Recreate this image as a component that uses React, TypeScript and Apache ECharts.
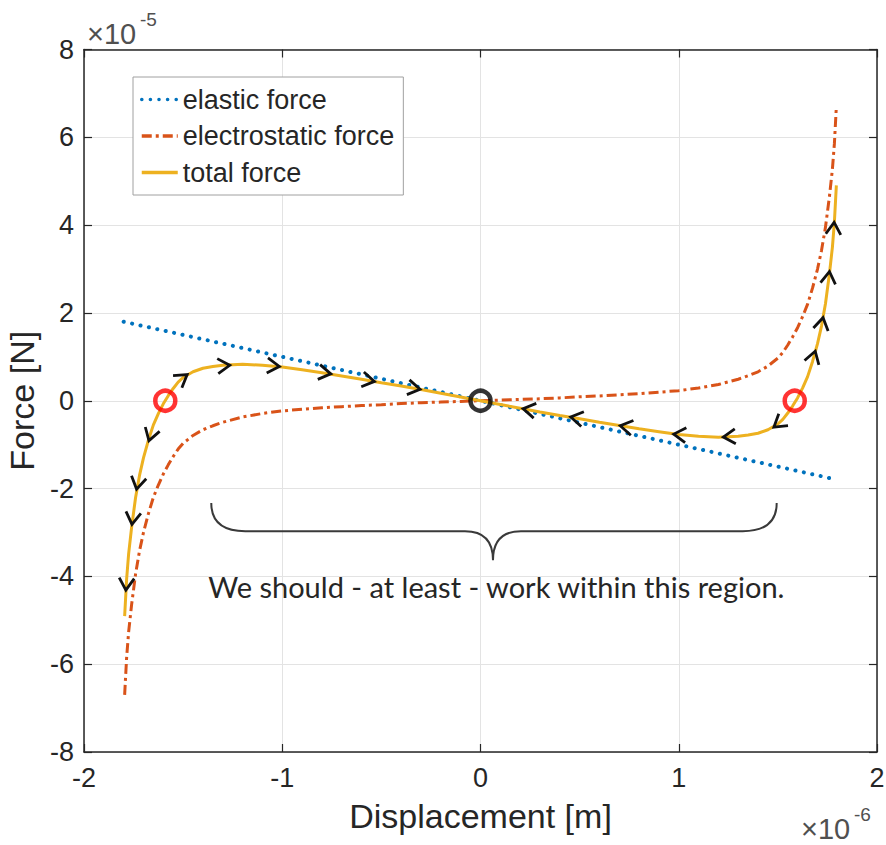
import React, { useEffect, useRef } from 'react';
import * as echarts from 'echarts';

// Displacement (x 1e-6 m) sample points for the curved forces (positive half; mirrored below)
const halfX = [0, 0.1, 0.2, 0.3, 0.4, 0.5, 0.6, 0.7, 0.8, 0.9, 1.0, 1.1, 1.2, 1.3, 1.35, 1.4, 1.45, 1.5,
  1.525, 1.55, 1.575, 1.6, 1.625, 1.65, 1.675, 1.7, 1.72, 1.74, 1.76, 1.775, 1.785, 1.795];
// Electrostatic force (x 1e-5 N), positive half
const halfElectro = [0, 0.015, 0.03, 0.045, 0.065, 0.09, 0.11, 0.135, 0.16, 0.195, 0.23, 0.29, 0.37, 0.49, 0.57, 0.66, 0.79, 0.97,
  1.1, 1.27, 1.46, 1.67, 1.92, 2.2, 2.57, 3.0, 3.42, 3.95, 4.65, 5.27, 5.85, 6.7];
// Total force (x 1e-5 N), positive half
const halfTotal = [0, -0.085, -0.17, -0.255, -0.335, -0.41, -0.49, -0.565, -0.64, -0.705, -0.77, -0.81, -0.83, -0.81, -0.78, -0.74, -0.66, -0.53,
  -0.425, -0.28, -0.115, 0.07, 0.295, 0.55, 0.895, 1.3, 1.7, 2.21, 2.89, 3.495, 4.065, 4.905];
// Elastic force (straight line)
const elasticX = [-1.8, 1.8];
const elasticF = [1.8, -1.8];

// Direction chevrons along the total force curve (angle: screen degrees, counter-clockwise)
const arrowX = [-1.665, -1.73, -1.755, -1.787, -1.5, -1.29, -1.04, -0.78, -0.56, -0.33,
  0.24, 0.48, 0.73, 1.0, 1.25, 1.5, 1.681, 1.723, 1.757, 1.782];
const arrowY = [-0.8, -1.9, -2.7, -4.2, 0.53, 0.8, 0.79, 0.63, 0.46, 0.28,
  -0.2, -0.39, -0.59, -0.77, -0.82, -0.53, 1.02, 1.78, 2.83, 3.95];
const arrowAngle = [253, 259, 263, 266, 36, 4, -5, -9, -10, -10,
  170, 170, 170, 175, 184, 218, 73, 79, 83, 86];

// Equilibrium points
const eqX = [-1.59, 0, 1.585];
const eqY = [0, 0, 0];
const eqColor = ['#FF0000', '#000000', '#FF0000'];

// Brace annotation (data units)
const braceX = [-1.358, 0.063, 1.494];
const braceY = [-2.33, -2.97, -3.63];
const noteText = 'We should - at least - work within this region.';
const notePos = [0.08, -4.22];

const FONT = 'Liberation Sans, Arial, sans-serif';

const dispX = [...halfX.slice(1).reverse().map((v) => -v), ...halfX];
const electroF = [...halfElectro.slice(1).reverse().map((v) => -v), ...halfElectro];
const totalF = [...halfTotal.slice(1).reverse().map((v) => -v), ...halfTotal];

export default function App() {
  const ref = useRef<HTMLDivElement>(null);
  useEffect(() => {
    if (!ref.current) return;
    const chart = echarts.init(ref.current, undefined, { renderer: 'svg' });
    const axisLine = { show: true, onZero: false, lineStyle: { color: '#262626', width: 1.5 } };
    const axisTick = { show: true, inside: true, length: 8, lineStyle: { color: '#262626', width: 1.2 } };
    const split = { show: true, lineStyle: { color: '#e3e3e3', width: 1 } };
    const option: any = {
      animation: false,
      backgroundColor: '#ffffff',
      grid: { left: 84, right: 9, top: 49.5, bottom: 93, containLabel: false, outerBoundsMode: 'none' },
      legend: {
        show: true,
        data: ['elastic force', 'electrostatic force', 'total force'],
        orient: 'vertical',
        left: 133,
        top: 77,
        padding: [9, 9, 9, 7],
        itemGap: 9.5,
        itemWidth: 36,
        itemHeight: 14,
        backgroundColor: '#ffffff',
        borderColor: '#a0a0a0',
        borderWidth: 1,
        itemStyle: { color: 'rgba(0,0,0,0)', borderColor: 'rgba(0,0,0,0)', borderWidth: 0 },
        lineStyle: { width: 3.5 },
        textStyle: { fontSize: 27, color: '#262626', fontFamily: FONT, lineHeight: 26 },
      },
      xAxis: [
        {
          type: 'value', min: -2, max: 2, interval: 1, position: 'bottom',
          axisLine, axisTick, splitLine: split,
          axisLabel: { fontSize: 27, color: '#262626', margin: 12, fontFamily: FONT },
          name: 'Displacement [m]', nameLocation: 'middle', nameGap: 47,
          nameTextStyle: { fontSize: 34, color: '#262626', fontFamily: FONT },
        },
        {
          type: 'value', min: -2, max: 2, interval: 1, position: 'top',
          axisLine, axisTick, splitLine: { show: false }, axisLabel: { show: false },
        },
      ],
      yAxis: [
        {
          type: 'value', min: -8, max: 8, interval: 2, position: 'left',
          axisLine, axisTick, splitLine: split,
          axisLabel: { fontSize: 27, color: '#262626', margin: 10, fontFamily: FONT },
          name: 'Force [N]', nameLocation: 'middle', nameGap: 36,
          nameTextStyle: { fontSize: 34, color: '#262626', fontFamily: FONT },
        },
        {
          type: 'value', min: -8, max: 8, interval: 2, position: 'right',
          axisLine, axisTick, splitLine: { show: false }, axisLabel: { show: false },
        },
      ],
      graphic: [
        { type: 'text', left: 87, top: 19, style: { text: '×10', fontSize: 29, fill: '#505050', fontFamily: FONT } },
        { type: 'text', left: 140, top: 10, style: { text: '-5', fontSize: 19, fill: '#505050', fontFamily: FONT } },
        { type: 'text', left: 801, top: 814, style: { text: '×10', fontSize: 29, fill: '#505050', fontFamily: FONT } },
        { type: 'text', left: 854, top: 805, style: { text: '-6', fontSize: 19, fill: '#505050', fontFamily: FONT } },
      ],
      series: [
        {
          name: 'elastic force', type: 'line', xAxisIndex: 0, yAxisIndex: 0,
          data: elasticX.map((x, i) => [x, elasticF[i]]),
          symbol: 'none', color: '#0072BD',
          lineStyle: { color: '#0072BD', width: 4, type: [0.1, 8.5], cap: 'round' },
          z: 2,
        },
        {
          name: 'electrostatic force', type: 'line', xAxisIndex: 0, yAxisIndex: 0,
          data: dispX.map((x, i) => [x, electroF[i]]),
          symbol: 'none', color: '#D95319', smooth: false,
          lineStyle: { color: '#D95319', width: 3, type: [10, 4, 3, 4] },
          z: 3,
        },
        {
          name: 'total force', type: 'line', xAxisIndex: 0, yAxisIndex: 0,
          data: dispX.map((x, i) => [x, totalF[i]]),
          symbol: 'none', color: '#EDB120', smooth: false,
          lineStyle: { color: '#EDB120', width: 3 },
          z: 4,
        },
        {
          name: 'arrows', type: 'custom', xAxisIndex: 0, yAxisIndex: 0, z: 5,
          data: arrowX.map((x, i) => [x, arrowY[i], arrowAngle[i]]),
          renderItem: (params: any, api: any) => {
            const p = api.coord([api.value(0), api.value(1)]);
            return {
              type: 'polyline', x: p[0], y: p[1], rotation: (api.value(2) * Math.PI) / 180,
              shape: { points: [[-7, -7.5], [5, 0], [-7, 7.5]] },
              style: { stroke: '#111111', fill: 'none', lineWidth: 2.8 },
            };
          },
        },
        {
          name: 'equilibria', type: 'scatter', xAxisIndex: 0, yAxisIndex: 0, z: 6,
          symbol: 'circle', symbolSize: 20,
          data: eqX.map((x, i) => ({ value: [x, eqY[i]], itemStyle: { color: 'rgba(0,0,0,0)', borderColor: eqColor[i], borderWidth: 4.5 } })),
        },
        {
          name: 'brace', type: 'custom', xAxisIndex: 0, yAxisIndex: 0, z: 5,
          data: [[braceX[0], braceY[0]]],
          renderItem: (params: any, api: any) => {
            const L = api.coord([braceX[0], braceY[0]]);
            const B = api.coord([braceX[0], braceY[1]]);
            const T = api.coord([braceX[1], braceY[2]]);
            const R = api.coord([braceX[2], braceY[0]]);
            const yb = B[1];
            const r = 34;
            const r2 = 28;
            const d = `M${L[0]},${L[1]} Q${L[0]},${yb} ${L[0] + r},${yb} L${T[0] - r2},${yb} Q${T[0]},${yb} ${T[0]},${T[1]} Q${T[0]},${yb} ${T[0] + r2},${yb} L${R[0] - r},${yb} Q${R[0]},${yb} ${R[0]},${R[1]}`;
            const tp = api.coord(notePos);
            return {
              type: 'group',
              children: [
                { type: 'path', shape: { pathData: d }, style: { stroke: '#3a3a3a', fill: 'none', lineWidth: 2 } },
                {
                  type: 'text', x: tp[0], y: tp[1],
                  style: { text: noteText, align: 'center', verticalAlign: 'middle', fontSize: 29, fontFamily: 'Lato, Open Sans, sans-serif', fill: '#262626' },
                },
              ],
            };
          },
        },
      ],
    };
    chart.setOption(option);
    return () => chart.dispose();
  }, []);
  return <div ref={ref} style={{ position: 'fixed', left: 0, top: 0, width: 886, height: 845, background: '#fff' }} />;
}
